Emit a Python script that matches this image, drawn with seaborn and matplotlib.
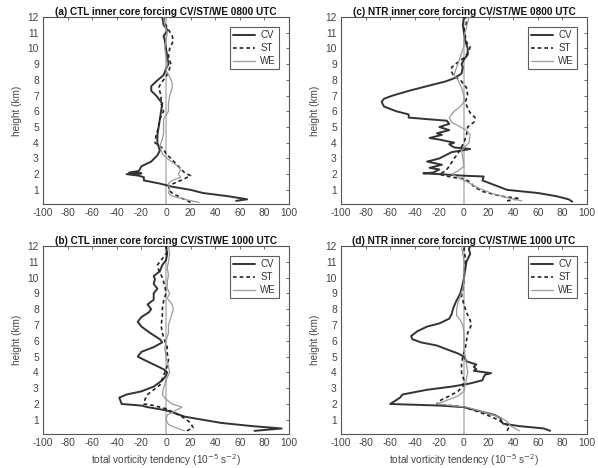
import matplotlib
matplotlib.use("Agg")
import matplotlib.pyplot as plt
import seaborn as sns
import pandas as pd

sns.set_theme(style="white")
plt.rcParams['font.family'] = ['Liberation Sans', 'DejaVu Sans']
plt.rcParams['axes.unicode_minus'] = False

# ---------------- data ----------------
# (a) CTL 0800 UTC
a_cv_z = [0.3, 0.4, 0.6, 0.8, 1.0, 1.2, 1.4, 1.6, 1.8, 1.9, 2.0, 2.05, 2.1, 2.2, 2.5, 2.8, 3.2, 3.5, 4.0, 4.5, 5.0, 5.5, 6.0, 6.5, 7.0, 7.3, 7.6, 7.9, 8.3, 8.7, 9.0, 9.5, 10.0, 10.5, 10.8, 11.0, 11.2, 11.5, 12.0]
a_cv_x = [57, 66, 50, 30, 20, 5, -5, -18, -18, -22, -32, -20, -30, -22, -20, -12, -7, -5, -7, -7, -6, -5, -4, -3, -8, -12, -12, -8, -2, 0, 2, 1, 0, -1, -2, 0, 1, -2, -3]
a_st_z = [0.2, 0.5, 0.8, 1.0, 1.3, 1.6, 1.9, 2.1, 2.5, 3.0, 3.3, 3.6, 4.0, 4.5, 5.0, 5.5, 6.0, 6.5, 7.0, 7.5, 7.8, 8.2, 8.5, 9.0, 9.5, 10.0, 10.5, 10.8, 11.2, 11.6, 12.0]
a_st_x = [20, 12, 5, 2, 3, 12, 20, 15, 10, 4, 0, -2, -9, -8, -6, -5, -2, -4, -4, -6, -4, 0, 2, 4, 2, 3, 6, 5, 2, -1, -2]
a_we_z = [0.2, 0.4, 0.6, 0.8, 1.1, 1.4, 1.6, 1.8, 2.0, 2.3, 2.6, 3.0, 3.3, 3.8, 4.2, 4.6, 5.0, 5.5, 6.0, 6.5, 7.0, 7.5, 7.8, 8.2, 8.6, 9.0, 9.5, 10.0, 10.5, 11.0, 11.5, 12.0]
a_we_x = [27, 15, 5, 2, 3, 2, 5, 12, 10, 12, 8, 1, -3, -5, -3, -2, -2, -2, 2, 2, 3, 5, 5, 3, 0, 1, 0, -1, 0, 1, -1, -2]

# (c) NTR 0800 UTC
c_cv_z = [0.25, 0.4, 0.6, 0.8, 1.0, 1.3, 1.6, 1.85, 1.9, 2.0, 2.05, 2.1, 2.3, 2.4, 2.6, 2.8, 3.0, 3.2, 3.4, 3.6, 3.7, 3.9, 4.0, 4.2, 4.3, 4.5, 4.6, 4.8, 5.0, 5.2, 5.4, 5.5, 5.6, 5.8, 6.0, 6.3, 6.6, 6.8, 7.0, 7.3, 7.6, 7.9, 8.1, 8.4, 8.8, 9.0, 9.3, 9.6, 10.0, 10.5, 11.0, 11.5, 12.0]
c_cv_x = [88, 85, 75, 60, 35, 25, 15, 16, 0, -20, -33, -25, -20, -28, -18, -30, -20, -15, -10, 5, -8, -12, -8, -20, -28, -18, -22, -12, -20, -12, -14, -30, -45, -45, -55, -65, -67, -65, -58, -45, -30, -15, -8, -2, -1, -2, 0, 3, 3, 1, 0, -1, 0]
c_st_z = [0.3, 0.45, 0.6, 0.9, 1.2, 1.5, 1.7, 1.8, 2.0, 2.2, 2.5, 3.0, 3.3, 3.6, 4.0, 4.5, 5.0, 5.3, 5.6, 5.9, 6.2, 6.6, 7.0, 7.5, 8.0, 8.2, 8.5, 8.8, 9.0, 9.4, 9.8, 10.1, 10.4, 10.8, 11.2, 11.6, 12.0]
c_st_x = [35, 45, 30, 15, 8, 5, 0, -10, -20, -15, -12, -8, -5, -3, 0, 2, 3, 8, 9, 5, 3, 1, 3, 2, -3, -8, -10, -10, -7, 0, 4, 5, 2, 1, 0, 2, 1]
c_we_z = [0.3, 0.5, 0.8, 1.1, 1.4, 1.6, 1.8, 2.0, 2.2, 2.5, 3.0, 3.5, 4.0, 4.5, 4.8, 5.0, 5.3, 5.6, 6.0, 6.3, 6.6, 7.0, 7.5, 8.0, 8.3, 8.8, 9.2, 9.7, 10.2, 10.8, 11.3, 11.7, 12.0]
c_we_x = [47, 35, 22, 12, 5, 0, -5, -10, -5, 0, -1, -2, 4, 5, 2, -3, -10, -12, -8, -3, 0, 0, -2, -5, -8, -6, -4, -2, 0, 0, 2, 3, 4]

# (b) CTL 1000 UTC
b_cv_z = [0.3, 0.45, 0.6, 0.8, 1.0, 1.2, 1.4, 1.6, 1.8, 1.9, 2.0, 2.4, 2.6, 2.8, 3.1, 3.5, 3.8, 4.0, 4.2, 4.5, 4.8, 5.0, 5.3, 5.6, 5.9, 6.1, 6.5, 6.9, 7.2, 7.5, 7.8, 8.0, 8.3, 8.6, 9.0, 9.3, 9.6, 9.9, 10.1, 10.4, 10.8, 11.1, 11.5, 12.0]
b_cv_x = [72, 94, 70, 45, 30, 15, 8, 0, -15, -20, -36, -38, -32, -20, -10, -3, 0, 1, -2, -10, -18, -23, -20, -10, -3, -5, -13, -20, -23, -20, -14, -12, -15, -10, -10, -7, -10, -9, -10, -5, -3, 0, 1, 0]
b_st_z = [0.3, 0.5, 0.8, 1.1, 1.4, 1.7, 1.9, 2.0, 2.3, 2.6, 2.9, 3.2, 3.6, 4.0, 4.4, 4.8, 5.2, 5.6, 6.0, 6.5, 7.0, 7.5, 8.0, 8.5, 9.0, 9.5, 10.0, 10.5, 10.8, 11.2, 11.6, 12.0]
b_st_x = [17, 22, 20, 15, 8, 0, -10, -18, -17, -15, -10, -5, -3, -1, 1, 2, 1, 1, -1, -3, -4, -3, -3, -2, 0, -1, -3, -6, -7, -3, 1, 0]
b_we_z = [0.3, 0.5, 0.7, 1.0, 1.3, 1.6, 1.8, 2.0, 2.3, 2.6, 3.0, 3.5, 4.0, 4.4, 5.0, 5.5, 6.0, 6.5, 7.0, 7.5, 8.0, 8.3, 8.7, 9.0, 9.3, 9.7, 10.2, 10.6, 11.0, 11.5, 12.0]
b_we_x = [15, 8, 2, 0, 1, 8, 13, 5, 0, -3, -2, 0, 3, 2, 0, -1, 0, 2, 2, 4, 6, 5, 1, 3, 1, 1, 2, 1, 2, 3, 2]

# (d) NTR 1000 UTC
d_cv_z = [0.3, 0.45, 0.6, 0.75, 0.9, 1.1, 1.3, 1.6, 1.8, 1.9, 2.0, 2.1, 2.4, 2.6, 2.9, 3.1, 3.3, 3.5, 3.7, 3.85, 3.95, 4.1, 4.2, 4.35, 4.5, 4.7, 5.0, 5.2, 5.4, 5.7, 5.9, 6.1, 6.3, 6.6, 6.9, 7.1, 7.4, 7.7, 8.0, 8.4, 8.7, 9.0, 9.3, 9.6, 10.0, 10.5, 11.0, 11.5, 11.8, 12.0]
d_cv_x = [70, 65, 45, 32, 30, 30, 25, 10, 0, -20, -60, -58, -52, -50, -30, -10, 5, 15, 16, 17, 22, 8, 10, 8, 10, 2, 0, -5, -12, -22, -35, -42, -43, -38, -30, -20, -12, -10, -9, -7, -5, -3, -2, -1, 0, 1, 2, 5, 4, 5]
d_st_z = [0.3, 0.6, 0.9, 1.2, 1.5, 1.8, 2.0, 2.2, 2.5, 2.8, 3.1, 3.5, 4.0, 4.5, 5.0, 5.5, 6.0, 6.5, 7.0, 7.3, 7.8, 8.3, 8.8, 9.3, 9.8, 10.3, 10.8, 11.3, 11.8, 12.0]
d_st_x = [35, 37, 30, 22, 12, 0, -22, -20, -12, -5, -1, 0, -2, -2, -1, 1, 2, 3, 6, 5, 2, 0, -2, -1, 0, 0, 1, 1, 0, 1]
d_we_z = [0.3, 0.6, 0.9, 1.2, 1.5, 1.8, 2.0, 2.2, 2.5, 2.8, 3.2, 3.6, 4.0, 4.5, 5.0, 5.5, 6.0, 6.5, 7.0, 7.3, 7.6, 8.0, 8.4, 8.8, 9.3, 9.8, 10.4, 11.0, 11.5, 12.0]
d_we_x = [45, 38, 35, 28, 15, 2, -22, -15, -5, 0, 1, 2, 3, 2, 1, 0, 0, 0, -1, -3, -6, -6, -5, -3, -1, 0, 0, 0, -1, -2]

titles = ["(a) CTL inner core forcing CV/ST/WE 0800 UTC",
          "(c) NTR inner core forcing CV/ST/WE 0800 UTC",
          "(b) CTL inner core forcing CV/ST/WE 1000 UTC",
          "(d) NTR inner core forcing CV/ST/WE 1000 UTC"]
series_names = ["CV", "ST", "WE"]
x_ticks = [-100, -80, -60, -40, -20, 0, 20, 40, 60, 80, 100]
y_ticks = [1, 2, 3, 4, 5, 6, 7, 8, 9, 10, 11, 12]

panels = [
    [(a_cv_z, a_cv_x), (a_st_z, a_st_x), (a_we_z, a_we_x)],
    [(c_cv_z, c_cv_x), (c_st_z, c_st_x), (c_we_z, c_we_x)],
    [(b_cv_z, b_cv_x), (b_st_z, b_st_x), (b_we_z, b_we_x)],
    [(d_cv_z, d_cv_x), (d_st_z, d_st_x), (d_we_z, d_we_x)],
]

# ---------------- figure ----------------
W, H = 598, 468
fig = plt.figure(figsize=(W / 100, H / 100), dpi=100)
boxes = [  # left, top, right, bottom in pixels
    (43, 17, 289, 204),
    (341, 17, 587, 204),
    (43, 246, 289, 434),
    (341, 246, 587, 434),
]
styles = {
    "CV": dict(color="#333333", lw=1.4, ls="-"),
    "ST": dict(color="#222222", lw=1.2, ls=(0, (2.2, 1.8))),
    "WE": dict(color="#9a9a9a", lw=0.9, ls="-"),
}
tick_col = "#444444"
for i, (box, title, data) in enumerate(zip(boxes, titles, panels)):
    l, t, r, b = box
    ax = fig.add_axes([l / W, 1 - b / H, (r - l) / W, (b - t) / H])
    ax.axvline(0, color="#c0c0c0", lw=1.3, zorder=1)
    for name, (z, x) in zip(series_names, data):
        df = pd.DataFrame({"x": x, "z": z})
        st = styles[name]
        sns.lineplot(data=df, x="x", y="z", sort=False, estimator=None, ax=ax,
                     color=st["color"], lw=st["lw"], linestyle=st["ls"], label=name, zorder=3)
    ax.set_xlim(-100, 100)
    ax.set_ylim(0.1, 12)
    ax.set_xticks(x_ticks)
    ax.set_yticks(y_ticks)
    ax.tick_params(direction="in", length=2.5, width=0.6, labelsize=7.4,
                   colors="#555555", labelcolor=tick_col, top=True, right=True,
                   pad=3)
    for sp in ax.spines.values():
        sp.set_color("#555555")
        sp.set_linewidth(0.8)
    ax.set_title(title, fontsize=7.2, fontweight="bold", pad=1.5, color="#111111")
    ax.set_ylabel("height (km)", fontsize=7.2, color=tick_col, labelpad=4)
    if i >= 2:
        ax.set_xlabel("total vorticity tendency (10$^{-5}$ s$^{-2}$)", fontsize=7.2,
                      color=tick_col, labelpad=3)
    else:
        ax.set_xlabel("")
    leg = ax.legend(loc="upper right", fontsize=7.0, frameon=True, fancybox=False,
                    handlelength=2.3, handletextpad=0.5, borderpad=0.35,
                    labelspacing=0.3, borderaxespad=1.0)
    leg.get_frame().set_edgecolor("#333333")
    leg.get_frame().set_linewidth(0.8)
    for txt in leg.get_texts():
        txt.set_color("#333333")

fig.savefig("out.png", dpi=100, facecolor="white")
